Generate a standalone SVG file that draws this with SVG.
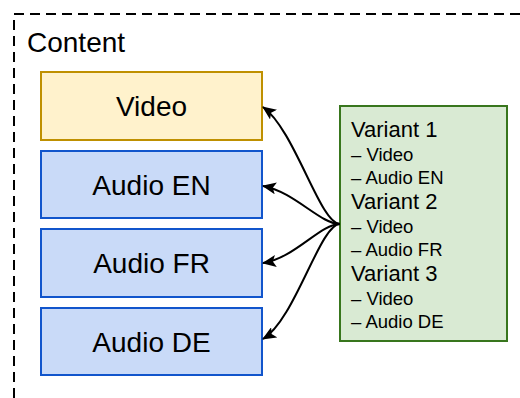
<svg xmlns="http://www.w3.org/2000/svg" width="520" height="398" viewBox="0 0 520 398">
  <defs>
    <marker id="arrow" markerUnits="userSpaceOnUse" markerWidth="14" markerHeight="12" viewBox="0 0 14 12" refX="13" refY="6" orient="auto">
      <path d="M0,0 L14,6 L0,12 L3,6 z" fill="#000"/>
    </marker>
    <style>
      text { font-family: "Liberation Sans", Arial, sans-serif; fill: #000; }
      .big { font-size: 28px; }
      .head { font-size: 22px; }
      .item { font-size: 18.5px; }
      .track { stroke-width: 2; }
      .video { fill: #fff2cc; stroke: #bf9000; }
      .audio { fill: #c9daf8; stroke: #1155cc; }
      .variants { fill: #d9ead3; stroke: #38761d; stroke-width: 2; }
      .edge { fill: none; stroke: #000; stroke-width: 2; marker-end: url(#arrow); }
    </style>
  </defs>
  <rect width="520" height="398" fill="#fff"/>

  <!-- Container outline (runs off the right and bottom edges) -->
  <g id="content">
    <rect x="14" y="14" width="540" height="420" fill="none" stroke="#000" stroke-width="2" stroke-dasharray="10 6"/>
    <text class="big" x="27" y="52">Content</text>
  </g>

  <g id="video">
    <rect class="track video" x="41" y="72" width="221" height="68"/>
    <text class="big" x="151.5" y="116" text-anchor="middle">Video</text>
  </g>
  <g id="audio-en">
    <rect class="track audio" x="41" y="151" width="221" height="67"/>
    <text class="big" x="151.5" y="194.5" text-anchor="middle">Audio EN</text>
  </g>
  <g id="audio-fr">
    <rect class="track audio" x="41" y="229" width="221" height="68"/>
    <text class="big" x="151.5" y="273" text-anchor="middle">Audio FR</text>
  </g>
  <g id="audio-de">
    <rect class="track audio" x="41" y="308" width="221" height="67"/>
    <text class="big" x="151.5" y="351.5" text-anchor="middle">Audio DE</text>
  </g>

  <g id="variants">
    <rect class="variants" x="340" y="106" width="167" height="235"/>
    <text class="head" x="351" y="137">Variant 1</text>
    <text class="item" x="351" y="161">– Video</text>
    <text class="item" x="351" y="184">– Audio EN</text>
    <text class="head" x="351" y="209">Variant 2</text>
    <text class="item" x="351" y="233">– Video</text>
    <text class="item" x="351" y="256">– Audio FR</text>
    <text class="head" x="351" y="281">Variant 3</text>
    <text class="item" x="351" y="305">– Video</text>
    <text class="item" x="351" y="328">– Audio DE</text>
  </g>

  <g id="connectors">
    <path class="edge" d="M340,224 C320,224 295,130 263,107"/>
    <path class="edge" d="M340,224 C320,224 295,192 263,186"/>
    <path class="edge" d="M340,224 C320,224 295,258 263,263"/>
    <path class="edge" d="M340,224 C320,224 295,320 263,339"/>
  </g>
</svg>
